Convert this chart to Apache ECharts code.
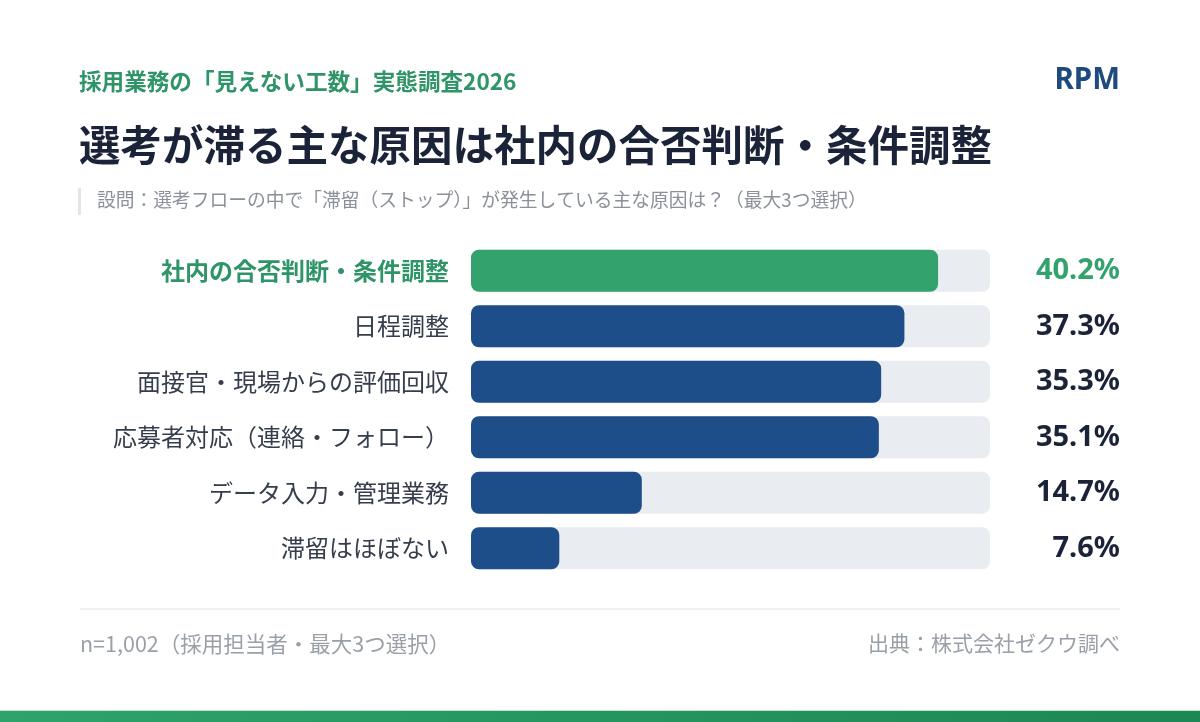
<!DOCTYPE html>
<html>
<head>
<meta charset="utf-8">
<script src="https://cdn.jsdelivr.net/npm/echarts@6/dist/echarts.min.js"></script>
<style>
	html, body { margin: 0; padding: 0; background: #fff; }
	#chart { width: 1200px; height: 722px; }
</style>
</head>
<body>
<div id="chart"></div>
<script>
var categories = ['社内の合否判断・条件調整', '日程調整', '面接官・現場からの評価回収', '応募者対応（連絡・フォロー）', 'データ入力・管理業務', '滞留はほぼない'];
var values = [40.2, 37.3, 35.3, 35.1, 14.7, 7.6];
var valueLabels = ['40.2%', '37.3%', '35.3%', '35.1%', '14.7%', '7.6%'];

var FONT = '"Noto Sans CJK JP", "Noto Sans", sans-serif';
var NUM_FONT = '"Noto Sans", "Noto Sans CJK JP", sans-serif';
var GREEN = '#33a26d';
var NAVY = '#1e4e8a';

var myChart = echarts.init(document.getElementById('chart'));
var option = {
	textStyle: { fontFamily: FONT },
	title: [{
		text: '採用業務の「見えない工数」実態調査2026',
		left: 79, top: 70, padding: 0,
		textStyle: { fontSize: 22.6, fontWeight: 'bold', color: '#2f9568', fontFamily: FONT }
	}, {
		text: 'RPM',
		right: 80, top: 66, padding: 0,
		textStyle: { fontSize: 29.5, fontWeight: 'bold', color: '#1e4a7e', fontFamily: NUM_FONT }
	}, {
		text: '選考が滞る主な原因は社内の合否判断・条件調整',
		left: 79, top: 124, padding: 0,
		textStyle: { fontSize: 41.5, fontWeight: 'bold', color: '#1b2338', fontFamily: FONT }
	}, {
		text: '設問：選考フローの中で「滞留（ストップ）」が発生している主な原因は？（最大3つ選択）',
		left: 97, top: 191, padding: 0,
		textStyle: { fontSize: 18.75, fontWeight: 'normal', color: '#8b9099', fontFamily: FONT }
	}, {
		text: 'n=1,002（採用担当者・最大3つ選択）',
		left: 80, top: 633, padding: 0,
		textStyle: { fontSize: 21.5, fontWeight: 'normal', color: '#9aa0a8', fontFamily: FONT }
	}, {
		text: '出典：株式会社ゼクウ調べ',
		right: 80, top: 633, padding: 0,
		textStyle: { fontSize: 21, fontWeight: 'normal', color: '#9aa0a8', fontFamily: FONT }
	}],
	graphic: [{
		type: 'rect',
		shape: { x: 78, y: 188, width: 3, height: 27 },
		style: { fill: '#e3e5e9' }
	}, {
		type: 'line',
		shape: { x1: 80, y1: 609, x2: 1120, y2: 609 },
		style: { stroke: '#e9ebee', lineWidth: 1.5 }
	}, {
		type: 'rect',
		shape: { x: 0, y: 711, width: 1200, height: 11 },
		style: {
			fill: new echarts.graphic.LinearGradient(0, 0, 1, 0, [
				{ offset: 0, color: '#2ea36b' },
				{ offset: 1, color: '#1d8755' }
			])
		}
	}, {
		type: 'rect',
		shape: { x: 0, y: 710, width: 1200, height: 1 },
		style: { fill: '#bfe3d0' }
	}],
	grid: {
		left: 471,
		right: 210,
		top: 243,
		height: 333
	},
	xAxis: {
		type: 'value',
		min: 0,
		max: Math.max.apply(null, values) / 0.9,
		show: false
	},
	yAxis: [{
		type: 'category',
		data: categories,
		inverse: true,
		axisLine: { show: false },
		axisTick: { show: false },
		axisLabel: {
			margin: 22,
			fontSize: 24,
			color: '#363d4c',
			fontFamily: FONT,
			formatter: function(v, i) {
				return i === 0 ? '{hl|' + v + '}' : v;
			},
			rich: {
				hl: { fontSize: 24, fontWeight: 'bold', color: '#2f9568', fontFamily: FONT }
			}
		}
	}, {
		type: 'category',
		data: valueLabels,
		inverse: true,
		position: 'right',
		axisLine: { show: false },
		axisTick: { show: false },
		axisLabel: {
			margin: 130,
			align: 'right',
			fontSize: 29,
			fontWeight: 'bold',
			color: '#1b2338',
			fontFamily: NUM_FONT,
			formatter: function(v, i) {
				return i === 0 ? '{hl|' + v + '}' : v;
			},
			rich: {
				hl: { fontSize: 29, fontWeight: 'bold', color: '#33a26d', fontFamily: NUM_FONT }
			}
		}
	}],
	series: [{
		type: 'bar',
		data: values.map(function(v, i) {
			return { value: v, itemStyle: { color: i === 0 ? GREEN : NAVY } };
		}),
		barWidth: 42,
		showBackground: true,
		backgroundStyle: { color: '#e9ecf0', borderRadius: 8 },
		itemStyle: { borderRadius: 8 },
		animation: false
	}]
};
myChart.setOption(option);
</script>
</body>
</html>
